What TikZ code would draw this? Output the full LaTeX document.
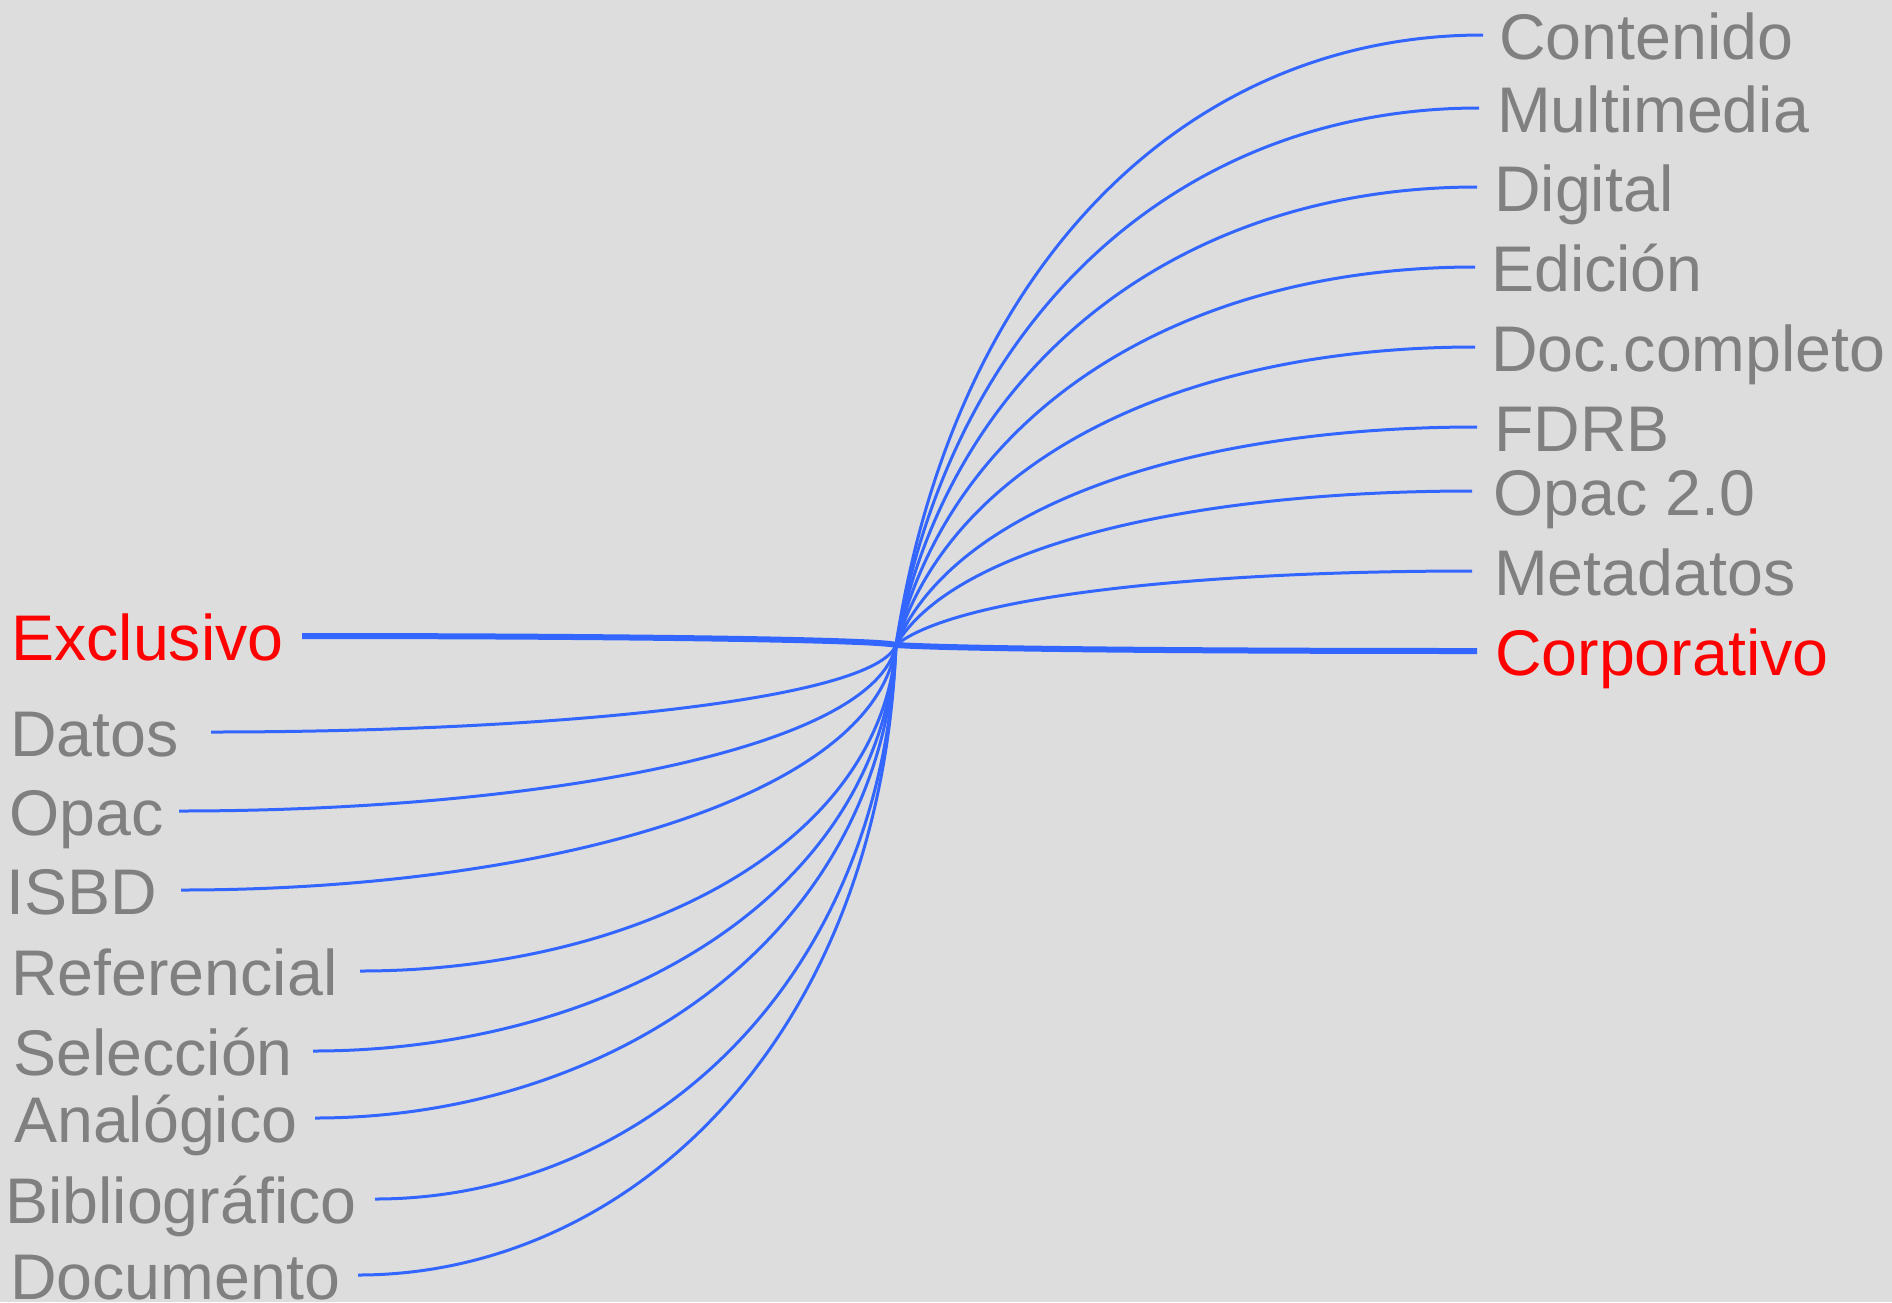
\documentclass[tikz,border=0pt]{standalone}
\usepackage{fontspec}
\setmainfont{Liberation Sans}
\usetikzlibrary{calc}
\definecolor{bgcol}{HTML}{DDDDDD}
\definecolor{linkblue}{HTML}{3366FF}
\definecolor{labelgray}{HTML}{808080}
\definecolor{labelred}{HTML}{FF0000}
\newcommand\hublink[3]{%
  \draw[#1] let \p1=(hub), \p2=(#2) in (\p1) .. controls ({\x1+#3*(\x2-\x1)},{\y1+0.63*(\y2-\y1)}) and ({\x1+0.5*(\x2-\x1)},\y2) .. (\p2);}
\begin{document}
\begin{tikzpicture}[x=1pt,y=-1pt,
  lbl/.style={inner sep=0pt, anchor=base west, text=labelgray, font=\fontsize{64.5pt}{77pt}\selectfont},
  keylbl/.style={lbl, text=labelred},
  link/.style={draw=linkblue, line width=3pt},
  mainlink/.style={draw=linkblue, line width=6pt}]
\fill[bgcol] (0,0) rectangle (1892,1302);
\useasboundingbox (0,0) rectangle (1892,1302);
\coordinate (hub) at (896,645);
% right labels
\node[lbl] (contenido) at (1499,59) {Contenido};
\node[lbl] (multimedia) at (1497,132) {Multimedia};
\node[lbl] (digital) at (1494,211) {Digital};
\node[lbl] (edicion) at (1491,291) {Edición};
\node[lbl] (doc) at (1491,371) {Doc.completo};
\node[lbl] (fdrb) at (1494,451) {FDRB};
\node[lbl] (opac2) at (1493,515) {Opac 2.0};
\node[lbl] (meta) at (1494,595) {Metadatos};
\node[keylbl] (corp) at (1495,675) {Corporativo};
% left labels
\node[keylbl] (excl) at (11,660) {Exclusivo};
\node[lbl] (datos) at (10,756) {Datos};
\node[lbl] (opac) at (9,835) {Opac};
\node[lbl] (isbd) at (6,914) {ISBD};
\node[lbl] (ref) at (11,995) {Referencial};
\node[lbl] (sel) at (13,1075) {Selección};
\node[lbl] (ana) at (14,1142) {Analógico};
\node[lbl] (bib) at (5,1223) {Bibliográfico};
\node[lbl] (docu) at (10,1299) {Documento};
% connector ends
\coordinate (e-contenido) at (1483,35);
\coordinate (e-multimedia) at (1479,108);
\coordinate (e-digital) at (1477,187);
\coordinate (e-edicion) at (1475,267);
\coordinate (e-doc) at (1475,347);
\coordinate (e-fdrb) at (1477,427);
\coordinate (e-opac2) at (1472,491);
\coordinate (e-meta) at (1472,571);
\coordinate (e-corp) at (1477,651);
\coordinate (e-excl) at (302,636);
\coordinate (e-datos) at (211,732);
\coordinate (e-opac) at (179,811);
\coordinate (e-isbd) at (181,890);
\coordinate (e-ref) at (360,971);
\coordinate (e-sel) at (313,1051);
\coordinate (e-ana) at (315,1118);
\coordinate (e-bib) at (375,1199);
\coordinate (e-docu) at (358,1275);
% connectors
\hublink{link}{e-contenido}{0.1}
\hublink{link}{e-multimedia}{0.1}
\hublink{link}{e-digital}{0.1}
\hublink{link}{e-edicion}{0.1}
\hublink{link}{e-doc}{0.1}
\hublink{link}{e-fdrb}{0.1}
\hublink{link}{e-opac2}{0.1}
\hublink{link}{e-meta}{0.1}
\hublink{link}{e-datos}{0.03}
\hublink{link}{e-opac}{0.03}
\hublink{link}{e-isbd}{0.03}
\hublink{link}{e-ref}{0.03}
\hublink{link}{e-sel}{0.03}
\hublink{link}{e-ana}{0.03}
\hublink{link}{e-bib}{0.03}
\hublink{link}{e-docu}{0.03}
\hublink{mainlink}{e-excl}{0.03}
\hublink{mainlink}{e-corp}{0.1}
\end{tikzpicture}
\end{document}
